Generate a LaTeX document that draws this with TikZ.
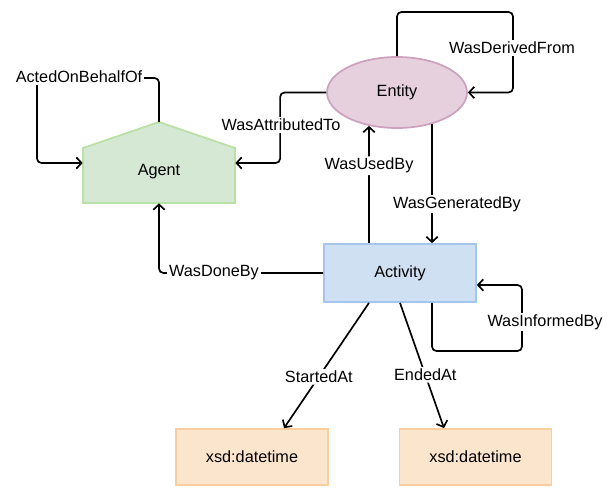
\documentclass[tikz,border=0pt]{standalone}
\usepackage{fontspec}
\setmainfont{Liberation Sans}
\usetikzlibrary{arrows.meta,calc,shapes.geometric}
\definecolor{agentfill}{HTML}{D5E8D4}
\definecolor{agentline}{HTML}{B9E0A5}
\definecolor{entityfill}{HTML}{E6D0DE}
\definecolor{entityline}{HTML}{CDA2BE}
\definecolor{activityfill}{HTML}{CFE0F2}
\definecolor{activityline}{HTML}{A6C5EA}
\definecolor{datefill}{HTML}{FCE5CD}
\definecolor{dateline}{HTML}{F8CE9E}

\begin{document}
\begin{tikzpicture}[x=0.02cm, y=-0.02cm, font=\fontsize{9.25}{11}\selectfont,
		link/.style={line width=0.95pt, rounded corners=2.5pt, -{Straight Barb[length=3pt,width=6.5pt]}},
		lbl/.style={fill=white, inner sep=1pt},
		datebox/.style={draw=dateline, fill=datefill, line width=1pt, minimum width=3.04cm, minimum height=1.12cm}]
		%%%%% START %%%%%
		
		\useasboundingbox (0, 0) rectangle (612, 487);
		
		\draw[draw=agentline, fill=agentfill, line width=1pt] (83, 203) -- (83, 148) -- (159, 122) -- (235, 148) -- (235, 203) -- cycle;
		\coordinate (apex) at (159, 122);
		\node[minimum width=3.04cm, minimum height=1.24cm] (agent) at (159, 172) {Agent};
		
		\node[ellipse, draw=entityline, fill=entityfill, line width=1pt, minimum width=2.8cm, minimum height=1.42cm] (entity) at (397, 92.5) {Entity};
		\node[draw=activityline, fill=activityfill, line width=1pt, minimum width=3.04cm, minimum height=1.16cm] (activity) at (400, 273) {Activity};
		
		\node[datebox] (start) at (252, 457) {xsd:datetime};
		\node[datebox] (end) at (475.5, 457) {xsd:datetime};
		
		\draw[link] (apex) |- (37, 78) |- ($(agent.west)+(0, -9)$);
		\node[lbl] (actedlbl) at (79, 77) {ActedOnBehalfOf};
		
		\draw[link] (entity.west) -- ++(-46, 0) |- ($(agent.east)+(0, -9)$);
		\node[lbl] (attriblbl) at (281, 125) {WasAttributedTo};
		
		\draw[link] (entity.north) |- (513, 12) |- (entity.east);
		\node[lbl] (derivedlbl) at (512, 48) {WasDerivedFrom};
		
		\draw[link] ($(activity.north)+(-31, 0)$) -- node[lbl, pos=0.66] (usedlbl) {WasUsedBy} ($(entity.south)+(-28, -3)$);
		\draw[link] ($(entity.south)+(35, -5)$) -- ($(activity.north)+(32, 0)$);
		\node[lbl] (generatedlbl) at (457, 204) {WasGeneratedBy};
		
		\draw[link] (activity.west) -| (agent.south);
		\node[lbl] (donelbl) at (214, 273) {WasDoneBy};
		
		\draw[link] ($(activity.south)+(32, 0)$) |- (522, 351) |- ($(activity.east)+(0, 12)$);
		\node[lbl] (informedlbl) at (545, 322) {WasInformedBy};
		
		\draw[link] ($(activity.south)+(-31, 0)$) -- node[lbl, pos=0.59] (startlbl) {StartedAt} ($(start.north)+(32, 0)$);
		\draw[link] (activity.south) -- node[lbl, pos=0.575] (endlbl) {EndedAt} ($(end.north)+(-31.5, 0)$);
		
		%%%%% END %%%%%
	\end{tikzpicture}
\end{document}
